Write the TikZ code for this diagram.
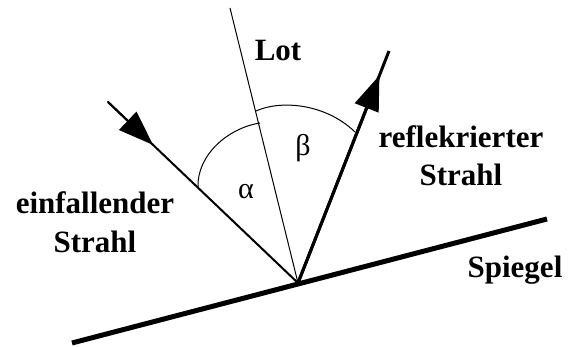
\documentclass[tikz,border=0pt]{standalone}
\usepackage{fontspec}
\setmainfont{Liberation Serif}
\usepackage{tikz}
\usetikzlibrary{arrows.meta,calc}
\tikzset{
  tri/.style={-{Triangle[length=35pt,width=25pt]}},
  ray/.style={line width=2pt},
  lt/.style={line width=1pt},
  mir/.style={line width=5pt},
  bow/.style={line width=1pt},
  lbl/.style={inner sep=0pt,font=\bfseries\fontsize{31}{38.5}\selectfont},
  gr/.style={inner sep=0pt,font=\fontsize{30}{32}\selectfont},
}

\begin{document}
\begin{tikzpicture}[x=1pt,y=-1pt]
\useasboundingbox (0,0) rectangle (576,347);
\coordinate (m1) at (72,343); \coordinate (m2) at (547,219); \coordinate (p) at (298,283);
\coordinate (s) at (108,102); \coordinate (r) at (389,51); \coordinate (l) at (230,8);
\coordinate (a1) at (198,187); \coordinate (a2) at (260,123);
\coordinate (b1) at (256,111); \coordinate (b2) at (355,132);
\draw[mir] (m1)--(m2);
\draw[lt] (p)--(l);
\draw[ray] (s)--(p); \draw[ray,line width=3pt] (p)--(r);
\fill (s) circle (1pt);
\draw[tri,ray] (s)--($(s)!0.237!(p)$);
\draw[tri,line width=3pt] (p)--($(p)!0.895!(r)$);
\draw[bow] (a1) .. controls (197,155) and (228,128) .. (a2);
\draw[bow] (b1) .. controls (280,100) and (325,103) .. (b2);
\node[gr] (al) at (246,192) {α}; \node[gr] (be) at (303,148) {β};
\node[lbl,anchor=base] (lot) at (278,61) {Lot};
\node[lbl,anchor=base] (sp) at (515,278) {Spiegel};
\node[lbl,align=center] (ein) at (95,222) {einfallender\\Strahl};
\node[lbl,align=center] (ref) at (461,155.5) {reflekrierter\\Strahl};
\end{tikzpicture}
\end{document}
